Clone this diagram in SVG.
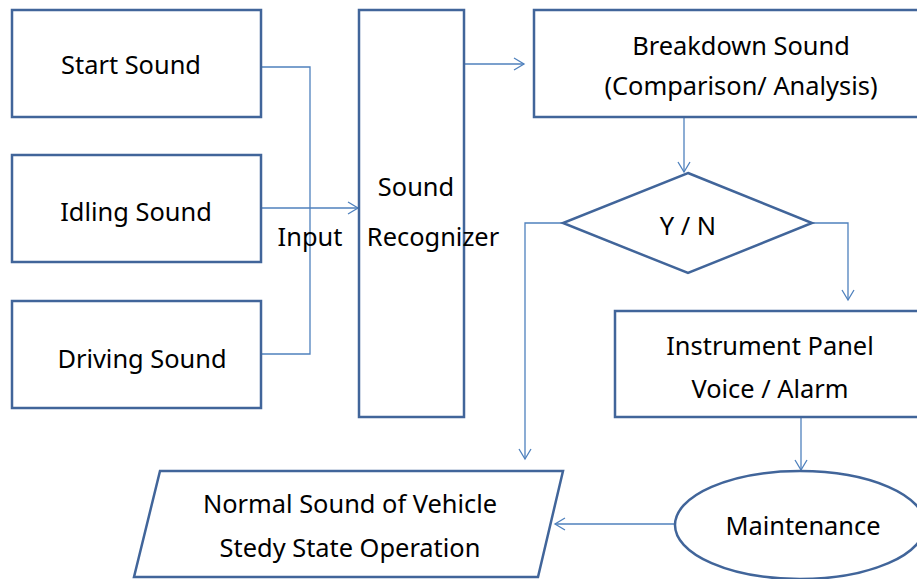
<svg xmlns="http://www.w3.org/2000/svg" width="917" height="579" viewBox="0 0 917 579">
<style>
.n{fill:#fff;stroke:#41659a;stroke-width:2.5}
.c{fill:none;stroke:#4f81bd;stroke-width:1.3}
text{font-family:"Noto Sans","Open Sans","Liberation Sans",sans-serif;font-size:25.4px;fill:#000;text-anchor:middle}
</style>
<defs>
<marker id="a" markerWidth="14" markerHeight="14" refX="11" refY="7" orient="auto" markerUnits="userSpaceOnUse">
<path d="M1,1 L11,7 L1,13" fill="none" stroke="#4f81bd" stroke-width="1.3"/>
</marker>
</defs>
<rect width="917" height="579" fill="#fff"/>
<g id="connectors">
<polyline class="c" points="261,67 310,67 310,354 261,354"/>
<line class="c" x1="261" y1="208" x2="358" y2="208" marker-end="url(#a)"/>
<line class="c" x1="464" y1="64" x2="524" y2="64" marker-end="url(#a)"/>
<line class="c" x1="684" y1="117" x2="684" y2="172" marker-end="url(#a)"/>
<polyline class="c" points="563,223 525,223 525,459" marker-end="url(#a)"/>
<polyline class="c" points="812,223 848,223 848,300" marker-end="url(#a)"/>
<line class="c" x1="801" y1="417" x2="801" y2="470" marker-end="url(#a)"/>
<line class="c" x1="675" y1="524" x2="555" y2="524" marker-end="url(#a)"/>
</g>
<g id="start"><rect class="n" x="12" y="10" width="249" height="107"/><text x="131" y="74">Start Sound</text></g>
<g id="idling"><rect class="n" x="12" y="155" width="249" height="107"/><text x="136" y="221">Idling Sound</text></g>
<g id="driving"><rect class="n" x="12" y="301" width="249" height="107"/><text x="142" y="368">Driving Sound</text></g>
<g id="input-label"><text x="310" y="246">Input</text></g>
<g id="recognizer"><rect class="n" x="359" y="10" width="105" height="407" style="fill:none"/><text x="416" y="196">Sound</text><text x="433" y="246">Recognizer</text></g>
<g id="breakdown"><rect class="n" x="534" y="10" width="390" height="107"/><text x="741" y="55">Breakdown Sound</text><text x="741" y="95">(Comparison/ Analysis)</text></g>
<g id="decision"><polygon class="n" points="688,173 812,223 688,273 563,223"/><text x="688" y="235">Y / N</text></g>
<g id="panel"><rect class="n" x="615" y="311" width="310" height="106"/><text x="770" y="355">Instrument Panel</text><text x="770" y="398">Voice / Alarm</text></g>
<g id="maintenance"><ellipse class="n" cx="800" cy="525" rx="125" ry="54"/><text x="803" y="535">Maintenance</text></g>
<g id="normal"><polygon class="n" points="160,471 563,471 538,577 134,577"/><text x="350" y="513">Normal Sound of Vehicle</text><text x="350" y="557">Stedy State Operation</text></g>
</svg>
